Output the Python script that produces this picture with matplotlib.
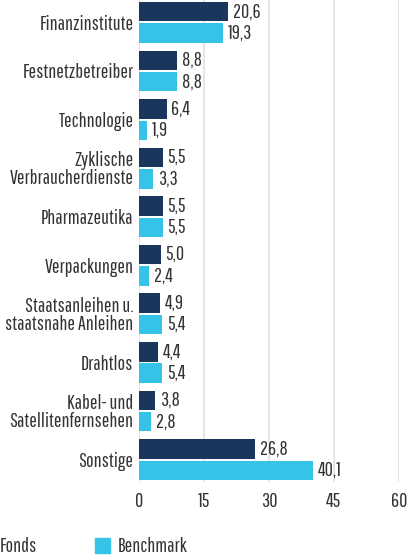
import numpy as np
import matplotlib.pyplot as plt
from matplotlib.patches import Rectangle

categories = ["Finanzinstitute", "Festnetzbetreiber", "Technologie",
              "Zyklische\nVerbraucherdienste", "Pharmazeutika", "Verpackungen",
              "Staatsanleihen u.\nstaatsnahe Anleihen", "Drahtlos",
              "Kabel- und\nSatellitenfernsehen", "Sonstige"]
fonds = [20.6, 8.8, 6.4, 5.5, 5.5, 5.0, 4.9, 4.4, 3.8, 26.8]
benchmark = [19.3, 8.8, 1.9, 3.3, 5.5, 2.4, 5.4, 5.4, 2.8, 40.1]
xticks = [0, 15, 30, 45, 60]

navy = "#1b365d"
cyan = "#35c3e8"
txt = "#333333"
plt.rcParams['font.family'] = ['Pathway Gothic One', 'DejaVu Sans']
fs = 14.5

fig = plt.figure(figsize=(4.18, 5.6), dpi=100)
ax = fig.add_axes([139/418, 1 - 482/560, 260/418, 482/560])

y = np.arange(len(categories))
h = 0.4
off = 0.22
ax.barh(y - off, fonds, height=h, color=navy, zorder=3)
ax.barh(y + off, benchmark, height=h, color=cyan, zorder=3)

for yi, v in zip(y - off, fonds):
    ax.text(v + 1.1, yi, f"{v:.1f}".replace(".", ","), va="center", ha="left",
            fontsize=fs, color=txt)
for yi, v in zip(y + off, benchmark):
    ax.text(v + 1.1, yi, f"{v:.1f}".replace(".", ","), va="center", ha="left",
            fontsize=fs, color=txt)

ax.set_xlim(0, 60)
ax.set_ylim(9.46, -0.46)
ax.set_xticks(xticks)
ax.set_xticklabels([str(t) for t in xticks], fontsize=fs, color=txt)
ax.set_yticks(y)
ax.set_yticklabels(categories, fontsize=fs, color=txt, linespacing=0.95)
ax.tick_params(axis="both", length=0, pad=4)
ax.tick_params(axis="x", pad=7)
ax.grid(axis="x", color="#e6e6e6", linewidth=1.5, zorder=0)
for s in ax.spines.values():
    s.set_visible(False)

# legend (Fonds swatch lies outside the canvas, as in the original)
fig.patches.append(Rectangle((-25/418, 1 - 553/560), 15/418, 15/560,
                             transform=fig.transFigure, color=navy))
fig.text(0, 1 - 546/560, "Fonds", fontsize=fs, color=txt, va="center")
fig.patches.append(Rectangle((95/418, 1 - 553/560), 15/418, 15/560,
                             transform=fig.transFigure, color=cyan))
fig.text(118/418, 1 - 546/560, "Benchmark", fontsize=fs, color=txt, va="center")

fig.savefig("out.png", dpi=100)
